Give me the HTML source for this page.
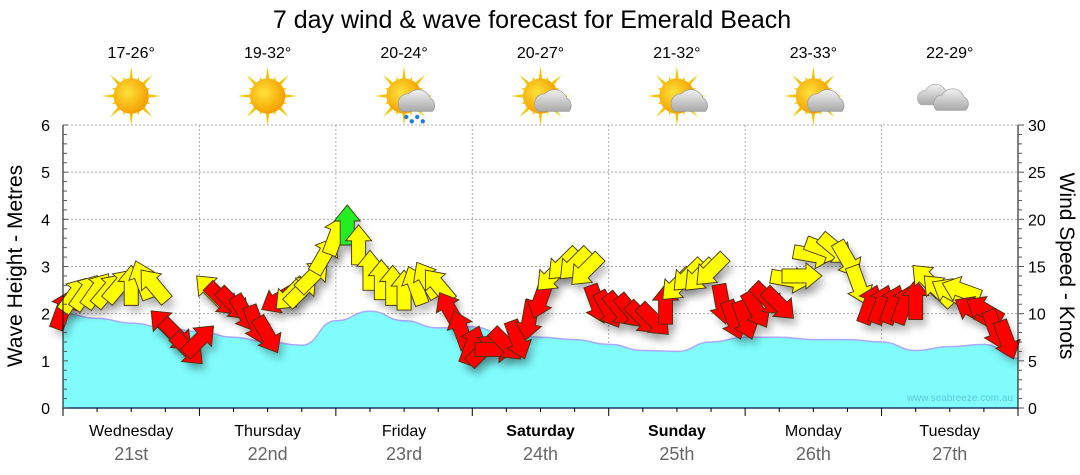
<!DOCTYPE html>
<html><head><meta charset="utf-8"><style>
body{margin:0;background:#fff;}
svg{display:block;font-family:"Liberation Sans","DejaVu Sans",sans-serif;}
</style></head><body>
<svg id="chart" width="1080" height="475" viewBox="0 0 1080 475">
<defs>
<radialGradient id="sunG" cx="0.4" cy="0.4" r="0.6"><stop offset="0" stop-color="#ffe23a"/><stop offset="1" stop-color="#f4a000"/></radialGradient>
<linearGradient id="cloudG" x1="0" y1="0" x2="0" y2="1"><stop offset="0" stop-color="#f2f2f2"/><stop offset="1" stop-color="#a8a8a8"/></linearGradient>
<filter id="sh" x="-50%" y="-50%" width="200%" height="200%"><feGaussianBlur stdDeviation="4"/></filter>
</defs>
<text x="532" y="28" font-size="25" text-anchor="middle" fill="#000">7 day wind &amp; wave forecast for Emerald Beach</text>
<g id="topG"></g>
<g id="grid"></g>
<g id="waves"></g>
<g id="arrows"></g>
<g id="axes"></g>
<text x="1013" y="401" font-size="10" text-anchor="end" fill="#5cc8d8">www.seabreeze.com.au</text>
<text transform="translate(22,266) rotate(-90)" font-size="21" text-anchor="middle">Wave Height - Metres</text>
<text transform="translate(1060,266) rotate(90)" font-size="21" text-anchor="middle">Wind Speed - Knots</text>
</svg>
<script>
const days=["Wednesday","Thursday","Friday","Saturday","Sunday","Monday","Tuesday"];
const dates=["21st","22nd","23rd","24th","25th","26th","27th"];
const temps=["17-26°","19-32°","20-24°","20-27°","21-32°","23-33°","22-29°"];
const weather=["sun","sun","rain","suncloud","suncloud","suncloud","cloud"];
const bold=[false,false,false,true,true,false,false];
// wave height every 6 hours (m)
const waveHeights=[2.0,1.9,1.8,1.7,1.62,1.5,1.4,1.33,1.85,2.05,1.85,1.7,1.72,1.55,1.5,1.45,1.35,1.22,1.2,1.4,1.5,1.5,1.45,1.45,1.4,1.22,1.3,1.35,1.05];
// wind every 2 hours
const windSpeeds=[10.4,12,12.3,12.5,12.5,13,13,13.6,13,8.8,7.7,6.2,
7.2,12.5,11.5,11,10,8.8,7.7,11.5,12,12.5,14,16.2,
18.3,19.4,17.3,14.6,13.6,13,12.5,13,13.6,13,10.4,8.3,
6.7,6.2,6.2,6.7,7.2,9.3,11.5,14,15.2,15.2,14.6,11,
10.4,10.4,10.2,9.5,9.3,11,13,14,14,14.6,11,9.3,
9.3,10.4,11.5,11,13.6,14,16.2,16.8,16.8,15.7,13,11,
11,11,11,11.5,13.6,12.5,12.3,12.5,10.4,10.4,8.3,7.2];
const windDirs=[20,35,35,35,40,40,0,340,320,315,135,135,
45,315,135,135,150,160,150,240,225,45,45,30,
20,0,0,0,0,0,0,340,330,320,330,340,
20,45,90,135,160,190,200,225,225,225,225,160,
150,140,140,135,135,0,225,225,225,225,170,160,
160,150,135,135,100,90,100,110,130,150,160,20,
20,20,20,0,315,315,300,290,300,300,160,160];
const windColors=["r","y","y","y","y","y","y","y","y","r","r","r",
"r","y","r","r","r","r","r","r","y","y","y","y",
"y","g","y","y","y","y","y","y","y","y","r","r",
"r","r","r","r","r","r","r","y","y","y","y","r",
"r","r","r","r","r","r","y","y","y","y","r","r",
"r","r","r","r","y","y","y","y","y","y","y","r",
"r","r","r","r","y","y","y","y","r","r","r","r"];
const yTicksLeft=[0,1,2,3,4,5,6];
const yTicksRight=[0,5,10,15,20,25,30];

const X0=63,X1=1018,Y0=408,Y1=125,HOURS=168;
const xh=h=>X0+(X1-X0)*h/HOURS;
const ym=m=>Y0-(Y0-Y1)*m/6;
const yk=k=>Y0-(Y0-Y1)*k/30;
const NS="http://www.w3.org/2000/svg";
function mk(tag,attrs,parent){const e=document.createElementNS(NS,tag);for(const k in attrs)e.setAttribute(k,attrs[k]);parent.appendChild(e);return e;}
const topG=document.getElementById('topG'),grid=document.getElementById('grid'),wav=document.getElementById('waves'),arr=document.getElementById('arrows'),ax=document.getElementById('axes');

for(let m=1;m<=6;m++){const l=mk('line',{x1:X0,x2:X1,y1:ym(m),y2:ym(m),stroke:'#aaa','stroke-dasharray':'2,2'},grid);

}
for(let d=1;d<7;d++){const l=mk('line',{x1:xh(d*24),x2:xh(d*24),y1:Y1,y2:Y0,stroke:'#aaa','stroke-dasharray':'2,2'},grid);

}

let pts=waveHeights.map((v,i)=>[xh(i*6),ym(v)]);
let d=`M${pts[0][0]},${pts[0][1]}`;
for(let i=1;i<pts.length;i++){const p=pts[i-1],q=pts[i],mx=(p[0]+q[0])/2;d+=` C${mx},${p[1]} ${mx},${q[1]} ${q[0]},${q[1]}`;}
const wa=mk('path',{d:d+` L${X1},${Y0} L${X0},${Y0} Z`,fill:'#80fcfd'},wav);


const wl=mk('path',{d:d,fill:'none',stroke:'#a9a9ff','stroke-width':1.5},wav);



const cmap={r:'#ff0000',y:'#ffff00',g:'#22ee22'};
const shape="M-7,20 L-7,-4 L-13,-4 L0,-20 L13,-4 L7,-4 L7,20 Z";
windSpeeds.forEach((s,i)=>{const x=xh(i*2),y=yk(s);
 const sh=mk('path',{d:shape,fill:'#000',opacity:0.25,filter:'url(#sh)',transform:`translate(${x+4},${y+7}) rotate(${windDirs[i]})`},arr);
 
 
});
windSpeeds.forEach((s,i)=>{const x=xh(i*2),y=yk(s);
 const a=mk('path',{d:shape,fill:cmap[windColors[i]],stroke:'#443311','stroke-width':0.9,transform:`translate(${x},${y}) rotate(${windDirs[i]})`},arr);
 
 
});

const la=mk('line',{x1:X0,x2:X0,y1:Y1,y2:Y0,stroke:'#000'},ax);


const ra=mk('line',{x1:X1,x2:X1,y1:Y1,y2:Y0,stroke:'#000'},ax);


const ba=mk('line',{x1:X0,x2:X1,y1:Y0,y2:Y0,stroke:'#1a3a6a','stroke-width':1.5},ax);


for(let k=0;k<=30;k++){const y=yk(k);const big=k%5==0;
 mk('line',{x1:X0,x2:X0+(big?5:4),y1:y,y2:y,stroke:'#555'},ax);
 mk('line',{x1:X1,x2:X1+(big?6:4),y1:y,y2:y,stroke:'#555'},ax);}
yTicksLeft.forEach(v=>{const t=mk('text',{x:X0-13,y:ym(v)+6,'font-size':16,'text-anchor':'end'},ax);t.textContent=v;
 
 });
yTicksRight.forEach(v=>{const t=mk('text',{x:X1+10,y:yk(v)+6,'font-size':16},ax);t.textContent=v;
 
 });
for(let h=0;h<=HOURS;h+=6){const big=h%24==0;mk('line',{x1:xh(h),x2:xh(h),y1:Y0,y2:Y0+(big?8:4),stroke:'#000'},ax);}

days.forEach((n,i)=>{const cx=xh(i*24+12);
 const t=mk('text',{x:cx,y:436,'font-size':16,'text-anchor':'middle','font-weight':bold[i]?'bold':'normal'},ax);t.textContent=n;
 
 
 const t2=mk('text',{x:cx,y:460,'font-size':18,'text-anchor':'middle',fill:'#666'},ax);t2.textContent=dates[i];
 
 
 const t3=mk('text',{x:cx,y:58,'font-size':16,'text-anchor':'middle'},topG);t3.textContent=temps[i];
 
 
 const g=mk('g',{transform:`translate(${cx},96) scale(1.1)`},topG);
 
 
 const w=weather[i];
 if(w!=='cloud'){for(let r=0;r<16;r++){const a=r*Math.PI/8,L=r%2?19:27;mk('polygon',{points:`${Math.cos(a)*L},${Math.sin(a)*L} ${Math.cos(a+0.15)*13},${Math.sin(a+0.15)*13} ${Math.cos(a-0.15)*13},${Math.sin(a-0.15)*13}`,fill:'#f5c400'},g);}
  mk('circle',{cx:0,cy:0,r:16,fill:'url(#sunG)'},g);}
 if(w==='suncloud'||w==='rain'){mk('path',{d:"M-2,14 a9,9 0 0 1 6,-16 a12,12 0 0 1 20,4 a8,8 0 0 1 2,12 Z",fill:'url(#cloudG)',stroke:'#999','stroke-width':0.6},g);}
 if(w==='rain'){for(let r=0;r<4;r++)mk('circle',{cx:2+r*5,cy:19+(r%2)*4,r:2,fill:'#1e7fe0'},g);}
 if(w==='cloud'){mk('path',{d:"M-26,8 a7,7 0 0 1 4,-13 a10,10 0 0 1 18,0 a7,7 0 0 1 2,13 Z",fill:'url(#cloudG)',stroke:'#aaa','stroke-width':0.6},g);
  mk('path',{d:"M-12,13 a8,8 0 0 1 5,-14 a11,11 0 0 1 20,2 a7,7 0 0 1 1,12 Z",fill:'url(#cloudG)',stroke:'#999','stroke-width':0.6},g);}
});
</script>
</body></html>
